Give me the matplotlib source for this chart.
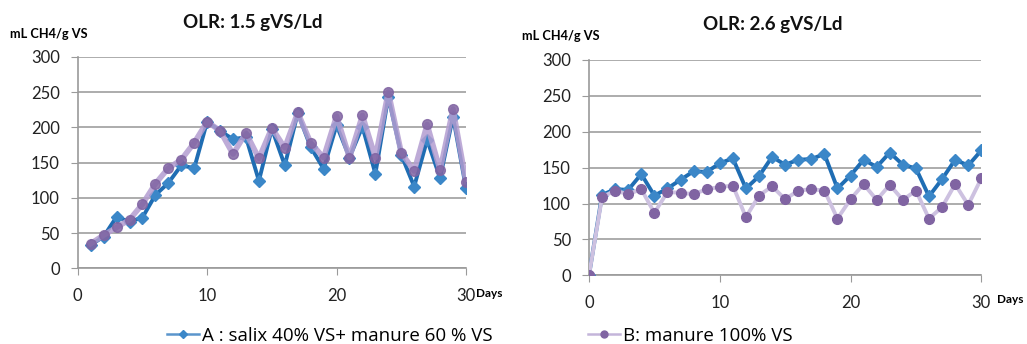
import matplotlib.pyplot as plt
from matplotlib.lines import Line2D

# Daily methane yield, mL CH4/g VS
days_15 = list(range(1, 31))
a_15 = [33, 45, 73, 66, 72, 104, 121, 146, 142, 208,
        195, 183, 186, 124, 198, 146, 220, 172, 141, 203,
        157, 201, 134, 243, 161, 116, 182, 128, 215, 114]
b_15 = [35, 47, 58, 69, 91, 120, 142, 154, 178, 208,
        195, 162, 192, 156, 199, 171, 221, 178, 157, 216,
        157, 217, 157, 250, 164, 138, 204, 139, 226, 123]

days_26 = list(range(0, 31))
a_26 = [0, 112, 120, 119, 141, 111, 121, 133, 145, 144, 156,
        163, 121, 138, 165, 154, 161, 162, 169, 121, 139,
        161, 151, 171, 154, 149, 110, 134, 161, 153, 174]
b_26 = [0, 109, 118, 113, 120, 87, 116, 115, 113, 120, 123,
        125, 81, 111, 124, 106, 118, 120, 118, 79, 106,
        127, 105, 126, 105, 118, 79, 95, 127, 98, 135]

label_a = "A : salix 40% VS+ manure 60 % VS"
label_b = "B: manure 100% VS"

plt.rcParams['font.family'] = ['Lato', 'DejaVu Sans']

blue = '#1f6db3'
blue_mk = '#3b87c8'
purple_mk = '#8064a2'

fig = plt.figure(figsize=(10.27, 3.44), dpi=100)
ax1 = fig.add_axes([0.0757, 0.22, 0.378, 0.615])
ax2 = fig.add_axes([0.5735, 0.1997, 0.382, 0.626])

def style(ax):
    ax.set_xlim(0, 30)
    ax.set_ylim(0, 300)
    ax.set_xticks([0, 10, 20, 30])
    ax.set_yticks(range(0, 301, 50))
    ax.grid(axis='y', color='#a6a6a6', linewidth=1.3)
    ax.set_axisbelow(True)
    for s in ['top', 'right']:
        ax.spines[s].set_visible(False)
    for s in ['left', 'bottom']:
        ax.spines[s].set_color('#9a9a9a')
        ax.spines[s].set_linewidth(1.2)
    ax.tick_params(axis='y', length=5, color='#9a9a9a', labelsize=12,
                   labelcolor='#222222', pad=8)
    ax.tick_params(axis='x', length=5, color='#9a9a9a', labelsize=12,
                   labelcolor='#222222', pad=9.5)
    ax.patch.set_alpha(0)

# Left: OLR 1.5
ax1.plot(days_15, a_15, color=blue, lw=2.8, marker='D', ms=6,
         mfc=blue_mk, mec=blue_mk, zorder=3)
ax1.plot(days_15, b_15, color='#b39dd0', lw=4, alpha=0.85, marker='o',
         ms=7, mfc=purple_mk, mec=purple_mk, zorder=4)
style(ax1)
fig.text(0.2465, 0.936, 'OLR: 1.5 gVS/Ld', fontsize=13.5, fontweight='bold',
         color='#111111', ha='center', va='center')
fig.text(0.010, 0.901, 'mL CH4/g VS', fontsize=9.2, fontweight='bold',
         va='center')
ax1.text(30.75, -36, 'Days', fontsize=8.5, fontweight='bold',
         ha='left', va='center')

# Right: OLR 2.6
ax2.plot(days_26, a_26, color=blue, lw=2.8, marker='D', ms=6,
         mfc=blue_mk, mec=blue_mk, zorder=3)
ax2.plot(days_26, b_26, color='#cdc1e0', lw=2.8, marker='o', ms=7,
         mfc=purple_mk, mec=purple_mk, zorder=4)
style(ax2)
fig.text(0.7525, 0.928, 'OLR: 2.6 gVS/Ld', fontsize=13.5, fontweight='bold',
         color='#111111', ha='center', va='center')
fig.text(0.508, 0.895, 'mL CH4/g VS', fontsize=9.2, fontweight='bold',
         va='center')
ax2.text(31.2, -34, 'Days', fontsize=8.5, fontweight='bold',
         ha='left', va='center')

handles = [
    Line2D([], [], color='#5b95cc', lw=1.8, marker='D', ms=4.5,
           mfc=blue_mk, mec=blue_mk),
    Line2D([], [], color='#c4b5da', lw=1.8, marker='o', ms=5,
           mfc=purple_mk, mec=purple_mk),
]
fig.legend(handles=handles, labels=[label_a, label_b], loc='center',
           bbox_to_anchor=(0.467, 0.024), ncol=2, frameon=False,
           prop={'family': ['Open Sans', 'DejaVu Sans'], 'size': 13.5},
           handlelength=1.7, handletextpad=0.16, columnspacing=5.1)

fig.savefig('out.png', dpi=100)
